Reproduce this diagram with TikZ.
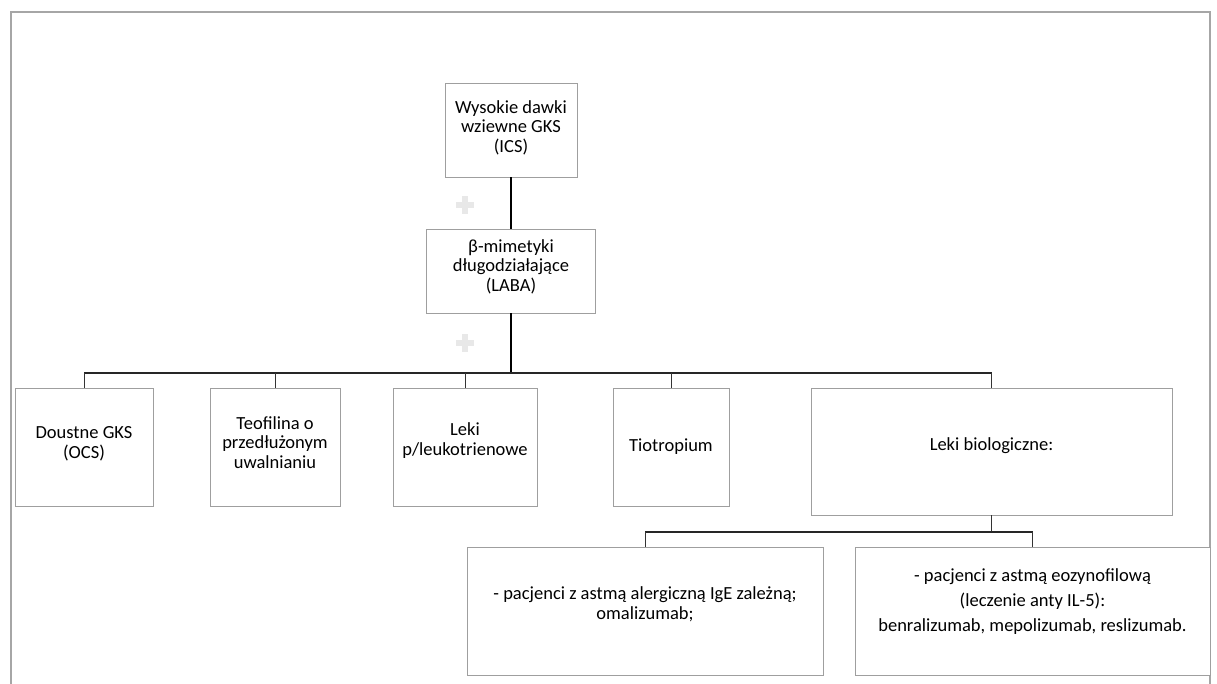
\documentclass[tikz,border=0pt]{standalone}
\usepackage{fontspec}
\setmainfont{Carlito}
\usepackage{tikz}

\tikzset{
  box/.style={draw=gray!75, line width=0.9pt, fill=white, align=center, inner sep=2pt,
    font=\fontsize{18.5}{19.5}\selectfont},
  mainline/.style={black, line width=2.4pt},
  busline/.style={black!85, line width=1.6pt},
  tick/.style={black!80, line width=0.9pt},
  plussign/.style={gray!18, line width=6pt}
}

\begin{document}
\begin{tikzpicture}[x=1pt,y=-1pt]
\useasboundingbox (0,0) rectangle (1217,684);
\draw[gray!70, line width=1.2pt] (11,684) -- (11,12) -- (1210,12) -- (1210,684);

\node[box, minimum width=132, minimum height=94] (ics) at (511,130) {Wysokie dawki\\wziewne GKS\\(ICS)\\[-12pt]};
\node[box, minimum width=169, minimum height=84] (laba) at (511,271) {β-mimetyki\\długodziałające\\(LABA)\\[-8pt]};

\node[box, minimum width=138, minimum height=118] (ocs) at (84,447) {Doustne GKS\\(OCS)\\[-10pt]};
\node[box, minimum width=130, minimum height=118] (teo) at (275,447) {Teofilina o\\przedłużonym\\uwalnianiu\\[-10pt]};
\node[box, minimum width=144, minimum height=118] (ltr) at (465,447) {Leki\\p/leukotrienowe\\[-4pt]};
\node[box, minimum width=116, minimum height=118] (tio) at (671,447) {Tiotropium};
\node[box, minimum width=361, minimum height=127] (bio) at (991.5,451.5) {Leki biologiczne:\\[-4pt]};

\node[box, minimum width=356, minimum height=128] (ige) at (645,611) {- pacjenci z astmą alergiczną IgE zależną;\\omalizumab;\\[-4pt]};
\node[box, minimum width=355, minimum height=128, font=\fontsize{18.5}{25}\selectfont] (eoz) at (1032.5,611)
  {- pacjenci z astmą eozynofilową\\(leczenie anty IL-5):\\benralizumab, mepolizumab, reslizumab.\\[-4pt]};

\coordinate (bus) at (511,373);
\coordinate (bus2) at (991.5,532);

\draw[plussign] (456,205) -- (474,205) (465,196) -- (465,214);
\draw[plussign] (456,343) -- (474,343) (465,334) -- (465,352);

\draw[mainline] (ics.south) -- (laba.north);
\draw[mainline] (laba.south) -- (bus);
\draw[busline] (ocs.north |- bus) -- (bio.north |- bus);
\foreach \n in {ocs,teo,ltr,tio,bio}
  \draw[tick] (\n.north |- bus) -- (\n.north);

\draw[tick] (bio.south) -- (bus2);
\draw[busline, line width=1.2pt] (ige.north |- bus2) -- (eoz.north |- bus2);
\foreach \n in {ige,eoz}
  \draw[tick] (\n.north |- bus2) -- (\n.north);
\end{tikzpicture}
\end{document}
